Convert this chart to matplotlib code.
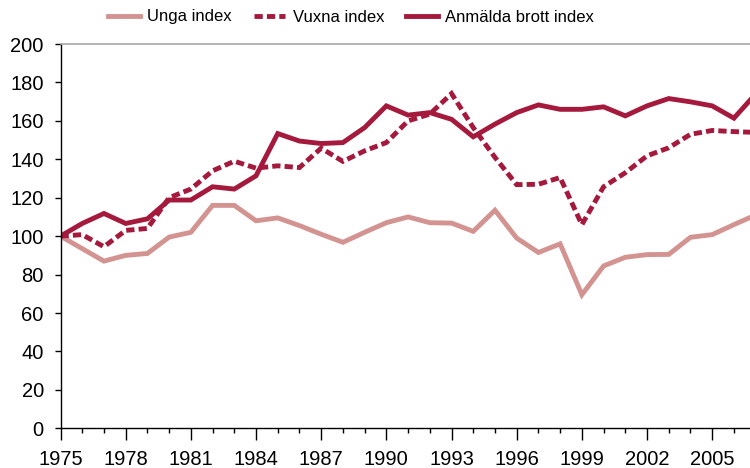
import numpy as np
import matplotlib
matplotlib.use('Agg')
import matplotlib.pyplot as plt
from matplotlib.ticker import MultipleLocator

plt.rcParams['font.family'] = ['Liberation Sans', 'DejaVu Sans']

years = np.arange(1975, 2008)
unga = [100, 93.5, 87, 90, 91, 99.5, 102, 116, 116, 108, 109.5, 105.5, 101, 96.8,
        102, 107, 110, 107, 106.8, 102.5, 113.5, 99, 91.5, 96, 69.5, 84.5, 89, 90.4,
        90.5, 99.4, 100.8, 106, 111]
vuxna = [100, 100.8, 94.5, 103, 104, 120, 124.5, 134, 139, 135.4, 136.6, 135.7, 145.8,
         138.9, 144.4, 148.7, 160, 163.5, 174.2, 156.5, 141, 126.8, 127, 130.5, 106,
         125.7, 133, 141.8, 146, 153, 155, 154.4, 154]
anmalda = [100, 106.6, 111.8, 106.6, 109, 118.8, 118.8, 125.7, 124.5, 131.4, 153.4,
           149.5, 148.2, 148.7, 156.5, 167.8, 163, 164.3, 160.8, 151.7, 158.3, 164.3,
           168.3, 166, 166, 167.3, 162.6, 167.8, 171.6, 169.9, 167.8, 161.4, 174]
labels = ['Unga index', 'Vuxna index', 'Anmälda brott index']
xticks = list(range(1975, 2006, 3))

PINK = '#D39491'
DARK = '#A5193D'

fig = plt.figure(figsize=(7.5, 4.68), dpi=100)
ax = fig.add_axes([60.5 / 750, 1 - 428.3 / 468, 1 - 60.5 / 750, (428.3 - 44) / 468])

ax.plot(years, unga, color=PINK, lw=3.5, solid_joinstyle='miter', label=labels[0])
ax.plot(years, vuxna, color=DARK, lw=3.5, linestyle=(0, (1.7, 0.85)),
        dash_capstyle='butt', dash_joinstyle='miter', label=labels[1])
ax.plot(years, anmalda, color=DARK, lw=3.5, solid_joinstyle='miter', label=labels[2])

ax.set_xlim(1975, 2006.74)
ax.set_ylim(0, 200)
ax.set_xticks(xticks)
ax.xaxis.set_minor_locator(MultipleLocator(1))
ax.yaxis.set_major_locator(MultipleLocator(20))

for side in ['left', 'bottom']:
    ax.spines[side].set_color('black')
    ax.spines[side].set_linewidth(1.0)
ax.spines['right'].set_visible(False)
ax.spines['top'].set_color('#A8A8A8')
ax.spines['top'].set_linewidth(1.2)

ax.tick_params(axis='y', which='major', direction='out', length=4.5, width=1,
               pad=7.5, labelsize=14.5)
ax.tick_params(axis='x', which='major', direction='out', length=8.6, width=1,
               pad=7, labelsize=14.5)
ax.tick_params(axis='x', which='minor', direction='out', length=3.6, width=1)

fig.legend(loc='center', bbox_to_anchor=(351 / 750, 1 - 17 / 468), ncol=3,
           frameon=False, fontsize=12, handlelength=1.9, handletextpad=0.45,
           columnspacing=1.3, borderaxespad=0, borderpad=0)

fig.savefig('out.png', dpi=100)
